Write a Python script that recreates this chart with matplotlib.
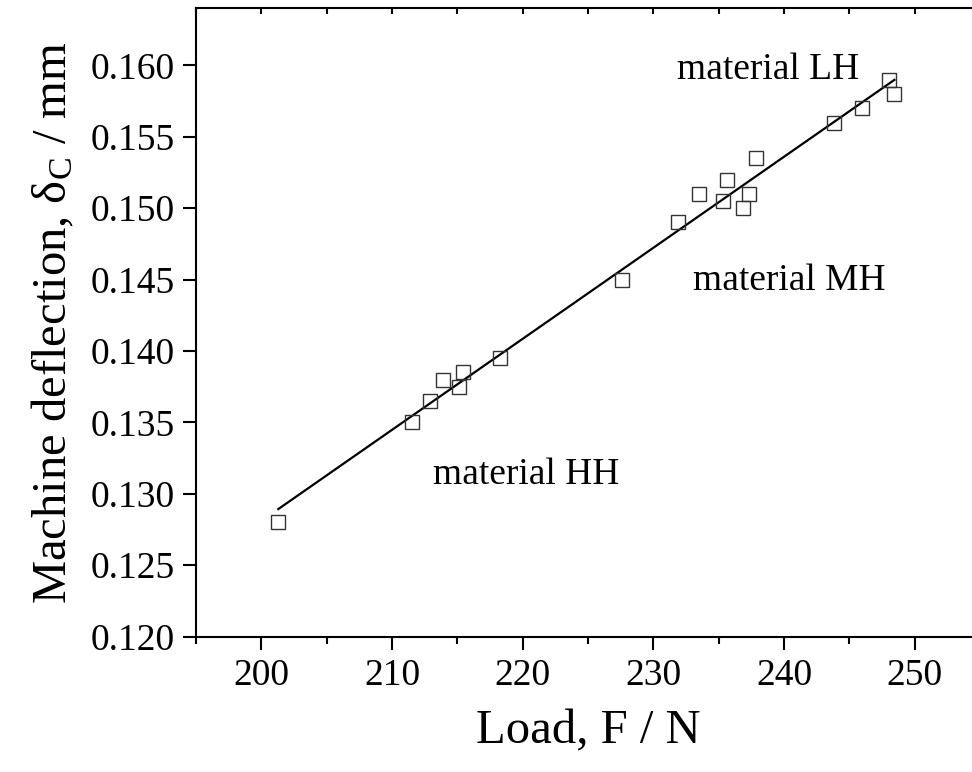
import numpy as np
import matplotlib
matplotlib.use("Agg")
import matplotlib.pyplot as plt
from matplotlib.ticker import MultipleLocator, FormatStrFormatter
from matplotlib.lines import TICKDOWN

plt.rcParams['font.family'] = ['Liberation Serif', 'DejaVu Serif']
plt.rcParams['mathtext.fontset'] = 'custom'
plt.rcParams['mathtext.rm'] = 'Liberation Serif'
plt.rcParams['mathtext.it'] = 'Liberation Serif:italic'

load = [201.3, 211.5, 212.9, 213.9, 215.15, 215.45, 218.3, 227.6, 231.9, 233.5,
        235.3, 235.6, 236.9, 237.35, 237.85, 243.8, 246.0, 248.0, 248.45]
deflection = [0.128, 0.135, 0.1365, 0.138, 0.1375, 0.1385, 0.1395, 0.145, 0.149, 0.151,
              0.1505, 0.152, 0.150, 0.151, 0.1535, 0.156, 0.157, 0.159, 0.158]

annotations = ["material LH", "material MH", "material HH"]
ann_x = [231.8, 233.0, 213.15]
ann_y = [0.1597, 0.1449, 0.1313]

fig = plt.figure(figsize=(9.72, 7.72), dpi=100)
ax = fig.add_axes([196 / 972, 1 - 636.5 / 772, (980 - 196) / 972, (636.5 - 8.3) / 772])

x = np.array(load)
y = np.array(deflection)
k, b = np.polyfit(x, y, 1)
xl = np.array([x.min(), x.max()])
ax.plot(xl, k * xl + b, color='black', lw=1.6, zorder=2)
ax.plot(x, y, linestyle='none', marker='s', markersize=9.5, markerfacecolor='none',
        markeredgecolor='#333333', markeredgewidth=1.0, zorder=3)

for t, tx, ty in zip(annotations, ann_x, ann_y):
    ax.text(tx, ty, t, fontsize=27, ha='left', va='center')

ax.set_xlim(195, 255)
ax.set_ylim(0.120, 0.164)
ax.xaxis.set_major_locator(MultipleLocator(10))
ax.xaxis.set_minor_locator(MultipleLocator(5))
ax.yaxis.set_major_locator(MultipleLocator(0.005))
ax.yaxis.set_major_formatter(FormatStrFormatter('%.3f'))
ax.tick_params(axis='both', which='major', direction='out', length=9.5, width=1.5, labelsize=27, pad=6)
ax.tick_params(axis='x', which='minor', direction='out', length=5, width=1.5)
ax.tick_params(axis='x', which='both', top=True)
for sp in ax.spines.values():
    sp.set_linewidth(1.5)
ax.spines['right'].set_visible(False)

ax.set_xlabel('Load, F / N', fontsize=35, labelpad=12)
ax.set_ylabel(r'Machine deflection, δ$_\mathrm{C}$ / mm', fontsize=35, labelpad=10)

for tick in ax.xaxis.get_major_ticks() + ax.xaxis.get_minor_ticks():
    tick.tick2line.set_marker(TICKDOWN)
    tick.tick2line.set_markersize(4)

fig.savefig('out.png', dpi=100)
